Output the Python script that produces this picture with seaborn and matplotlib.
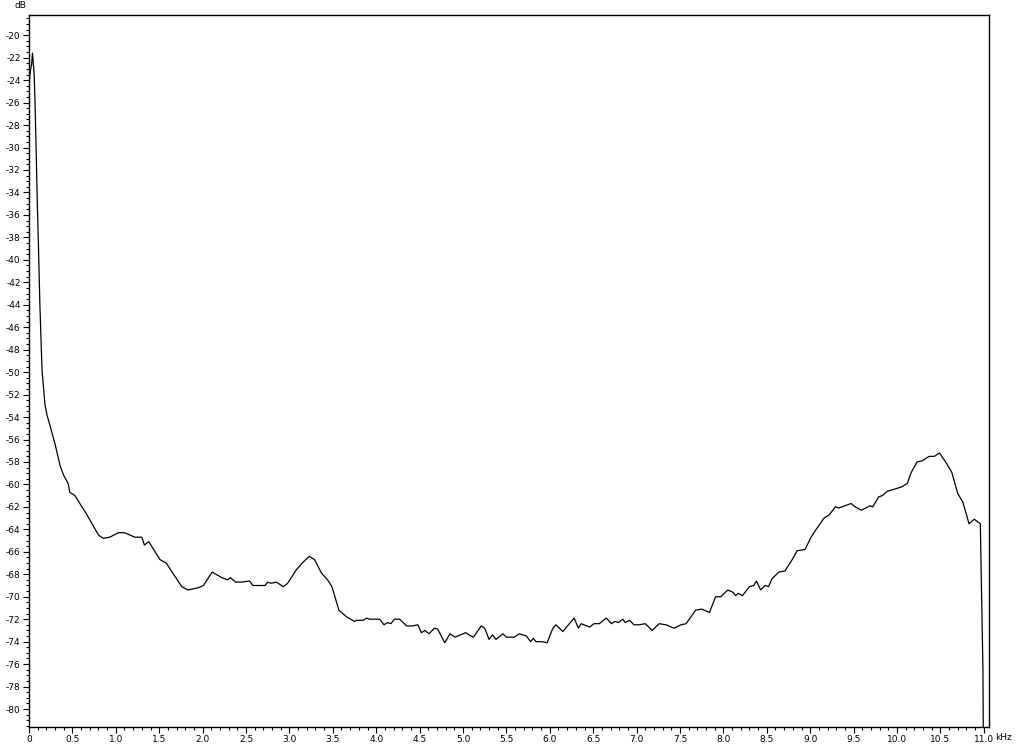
import numpy as np
import pandas as pd
import matplotlib
matplotlib.use("Agg")
import matplotlib.pyplot as plt
from matplotlib.ticker import MultipleLocator, FuncFormatter
import seaborn as sns

# spectrum: frequency in kHz, level in dB
freq_khz = [
    0.000, 0.010, 0.020, 0.030, 0.040, 0.050, 0.060, 0.070, 0.080, 0.095,
    0.110, 0.125, 0.150, 0.170, 0.184, 0.21, 0.24, 0.30, 0.357, 0.40, 0.45, 0.47,
    0.53, 0.61, 0.66, 0.80, 0.855, 0.93, 1.03, 1.10, 1.22, 1.30,
    1.33, 1.38, 1.51, 1.58, 1.76, 1.83, 1.95, 2.01, 2.11, 2.22,
    2.29, 2.32, 2.38, 2.45, 2.54, 2.58, 2.72, 2.75, 2.79, 2.85,
    2.93, 2.98, 3.08, 3.16, 3.23, 3.29, 3.37, 3.44, 3.49, 3.57,
    3.66, 3.75, 3.77, 3.85, 3.89, 3.92, 4.04, 4.09, 4.13, 4.17,
    4.21, 4.27, 4.35, 4.42, 4.48, 4.52, 4.56, 4.61, 4.67, 4.71,
    4.79, 4.85, 4.91, 5.03, 5.07, 5.12, 5.21, 5.25, 5.30, 5.34,
    5.38, 5.46, 5.50, 5.59, 5.65, 5.73, 5.78, 5.81, 5.84, 5.91,
    5.97, 6.03, 6.07, 6.15, 6.28, 6.33, 6.36, 6.46, 6.51, 6.57,
    6.65, 6.71, 6.75, 6.79, 6.84, 6.87, 6.92, 6.97, 7.03, 7.10,
    7.18, 7.26, 7.34, 7.43, 7.51, 7.57, 7.68, 7.75, 7.84, 7.91,
    7.97, 8.05, 8.11, 8.14, 8.17, 8.22, 8.30, 8.35, 8.38, 8.43,
    8.48, 8.52, 8.56, 8.64, 8.71, 8.80, 8.85, 8.94, 9.01, 9.06,
    9.16, 9.22, 9.29, 9.33, 9.47, 9.52, 9.59, 9.64, 9.69, 9.72,
    9.79, 9.83, 9.89, 9.98, 10.06, 10.12, 10.16, 10.23, 10.29, 10.37,
    10.43, 10.49, 10.56, 10.63, 10.70, 10.76, 10.83, 10.89, 10.96, 10.97,
    10.99, 11.00,
]
level_db = [
    -24.5, -23.6, -23.0, -22.6, -21.6, -22.6, -23.5, -26.2, -29.4, -34.7,
    -39.1, -43.9, -49.8, -51.6, -52.9, -53.9, -54.7, -56.4, -58.3, -59.2, -59.9, -60.7,
    -61.0, -62.0, -62.6, -64.5, -64.8, -64.7, -64.3, -64.3, -64.7, -64.7,
    -65.4, -65.1, -66.7, -67.0, -69.1, -69.4, -69.2, -69.0, -67.8, -68.3,
    -68.5, -68.3, -68.7, -68.7, -68.6, -69.0, -69.0, -68.7, -68.8, -68.7,
    -69.1, -68.8, -67.6, -66.9, -66.4, -66.7, -67.9, -68.5, -69.1, -71.2,
    -71.8, -72.2, -72.1, -72.1, -71.9, -72.0, -72.0, -72.5, -72.3, -72.4,
    -72.0, -72.0, -72.6, -72.6, -72.5, -73.2, -73.0, -73.3, -72.8, -72.9,
    -74.1, -73.3, -73.6, -73.2, -73.4, -73.6, -72.6, -72.8, -73.8, -73.4,
    -73.8, -73.3, -73.6, -73.6, -73.3, -73.5, -74.0, -73.7, -74.0, -74.0,
    -74.1, -72.9, -72.5, -73.1, -71.9, -72.8, -72.4, -72.7, -72.4, -72.4,
    -71.9, -72.4, -72.2, -72.3, -72.0, -72.3, -72.1, -72.5, -72.5, -72.4,
    -73.0, -72.4, -72.5, -72.8, -72.5, -72.4, -71.2, -71.1, -71.4, -70.0,
    -70.0, -69.4, -69.6, -69.9, -69.7, -69.9, -69.1, -69.0, -68.6, -69.4,
    -69.0, -69.1, -68.4, -67.8, -67.7, -66.6, -65.9, -65.8, -64.7, -64.1,
    -63.0, -62.7, -62.0, -62.1, -61.7, -62.0, -62.3, -62.1, -61.9, -62.0,
    -61.1, -61.0, -60.6, -60.4, -60.2, -59.9, -59.0, -58.0, -57.9, -57.5,
    -57.5, -57.2, -58.0, -58.9, -60.8, -61.6, -63.5, -63.1, -63.5, -67.9,
    -76.4, -90.0,
]

x_ticks = np.arange(0, 11.01, 0.5)
y_ticks = np.arange(-80, -19, 2)

sns.set_theme(style="white")
plt.rcParams["font.family"] = ["DejaVu Sans"]
plt.rcParams["axes.unicode_minus"] = False

df = pd.DataFrame({"kHz": freq_khz, "dB": level_db})

fig = plt.figure(figsize=(10.24, 7.45), dpi=100)
ax = fig.add_axes([29 / 1024, 1 - 727 / 745, 960 / 1024, 712 / 745])

sns.lineplot(data=df, x="kHz", y="dB", color="black", linewidth=0.9, ax=ax)

ax.set_xlim(0, 11.06)
ax.set_ylim(-81.6, -18.2)
ax.set_xlabel("")
ax.set_ylabel("")

ax.set_xticks(x_ticks)
ax.set_yticks(y_ticks)
ax.xaxis.set_minor_locator(MultipleLocator(0.1))
ax.yaxis.set_minor_locator(MultipleLocator(0.5))
ax.xaxis.set_major_formatter(FuncFormatter(lambda v, p: "0" if v == 0 else f"{v:.1f}"))
ax.yaxis.set_major_formatter(FuncFormatter(lambda v, p: f"{v:.0f}"))

ax.tick_params(axis="both", which="major", direction="out", length=4, width=0.8,
               color="black", labelcolor="black", labelsize=6.5, pad=2,
               bottom=True, left=True)
ax.tick_params(axis="both", which="minor", direction="out", length=2, width=0.8,
               color="black", bottom=True, left=True)

for s in ax.spines.values():
    s.set_color("black")
    s.set_linewidth(1.0)

fig.text(20 / 1024, 1 - 5 / 745, "dB", fontsize=6.5, color="black", ha="center", va="center")
fig.text(995 / 1024, 1 - 738 / 745, "kHz", fontsize=6.5, color="black", ha="left", va="center")

fig.savefig("out.png", dpi=100, facecolor="white")
